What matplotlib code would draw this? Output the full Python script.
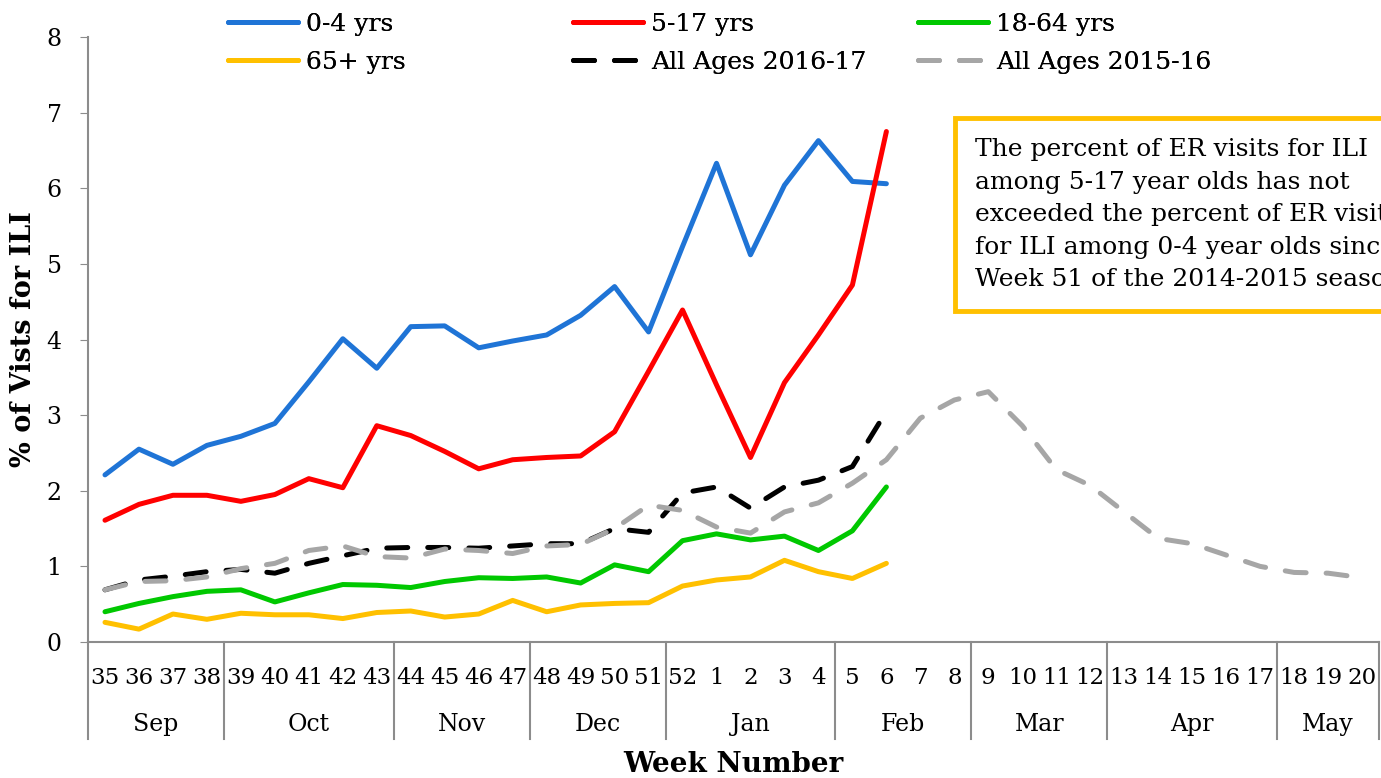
import matplotlib
matplotlib.use('Agg')
import matplotlib.pyplot as plt
import matplotlib.transforms as mtransforms

# week labels, Sep 2016 .. May 2017
weeks = [str(w) for w in range(35, 53)] + [str(w) for w in range(1, 21)]
months = ['Sep', 'Oct', 'Nov', 'Dec', 'Jan', 'Feb', 'Mar', 'Apr', 'May']
month_weeks = [4, 5, 4, 4, 5, 4, 4, 5, 3]

age_0_4 = [2.21, 2.55, 2.35, 2.60, 2.72, 2.89, 3.44, 4.01, 3.62, 4.17, 4.18, 3.89,
           3.98, 4.06, 4.32, 4.70, 4.10, 5.23, 6.33, 5.12, 6.04, 6.63, 6.09, 6.06]
age_5_17 = [1.61, 1.82, 1.94, 1.94, 1.86, 1.95, 2.16, 2.04, 2.86, 2.73, 2.52, 2.29,
            2.41, 2.44, 2.46, 2.78, 3.58, 4.39, 3.40, 2.44, 3.43, 4.06, 4.72, 6.75]
age_18_64 = [0.40, 0.51, 0.60, 0.67, 0.69, 0.53, 0.65, 0.76, 0.75, 0.72, 0.80, 0.85,
             0.84, 0.86, 0.78, 1.02, 0.93, 1.34, 1.43, 1.35, 1.40, 1.21, 1.47, 2.05]
age_65 = [0.26, 0.17, 0.37, 0.30, 0.38, 0.36, 0.36, 0.31, 0.39, 0.41, 0.33, 0.37,
          0.55, 0.40, 0.49, 0.51, 0.52, 0.74, 0.82, 0.86, 1.08, 0.93, 0.84, 1.04]
all_2016_17 = [0.69, 0.82, 0.87, 0.93, 0.96, 0.91, 1.04, 1.14, 1.24, 1.25, 1.25, 1.24,
               1.27, 1.30, 1.30, 1.50, 1.45, 1.97, 2.05, 1.77, 2.05, 2.14, 2.32, 3.05]
all_2015_16 = [0.69, 0.80, 0.81, 0.86, 0.97, 1.04, 1.21, 1.27, 1.13, 1.11, 1.23, 1.21,
               1.17, 1.27, 1.29, 1.50, 1.81, 1.74, 1.52, 1.44, 1.72, 1.84, 2.10, 2.41,
               2.96, 3.20, 3.31, 2.86, 2.28, 2.07, 1.72, 1.37, 1.30, 1.15, 1.00, 0.92,
               0.91, 0.85]

note = ('The percent of ER visits for ILI\n'
        'among 5-17 year olds has not\n'
        'exceeded the percent of ER visits\n'
        'for ILI among 0-4 year olds since\n'
        'Week 51 of the 2014-2015 season')

plt.rcParams['font.family'] = ['DejaVu Serif']
grey = '#8c8c8c'

fig = plt.figure(figsize=(13.81, 7.78), dpi=100)
ax = fig.add_axes([88 / 1381, 1 - 642 / 778, 1291 / 1381, 605 / 778])

lw = 3.6
x_cur = range(len(age_0_4))
l1, = ax.plot(x_cur, age_0_4, color='#1F74D6', lw=lw, solid_capstyle='round')
l2, = ax.plot(x_cur, age_5_17, color='#FF0000', lw=lw, solid_capstyle='round')
l3, = ax.plot(x_cur, age_18_64, color='#00C800', lw=lw, solid_capstyle='round')
l4, = ax.plot(x_cur, age_65, color='#FFC000', lw=lw, solid_capstyle='round')
l5, = ax.plot(x_cur, all_2016_17, color='black', lw=lw, ls=(0, (4.2, 4.0)),
              dash_capstyle='round')
l6, = ax.plot(range(len(all_2015_16)), all_2015_16, color='#A6A6A6', lw=lw,
              ls=(0, (4.2, 4.0)), dash_capstyle='round')

ax.set_xlim(-0.5, len(weeks) - 0.5)
ax.set_ylim(0, 8)
ax.set_yticks(range(9))
ax.tick_params(axis='y', labelsize=17, length=6, color=grey, pad=13)
ax.set_xticks(range(len(weeks)))
ax.set_xticklabels(weeks, fontsize=16.5)
ax.tick_params(axis='x', length=0, pad=18)
for s in ['top', 'right']:
    ax.spines[s].set_visible(False)
for s in ['left', 'bottom']:
    ax.spines[s].set_color(grey)
    ax.spines[s].set_linewidth(1.5)

# month groups below the week numbers
trans = mtransforms.blended_transform_factory(ax.transData, ax.transAxes)
start = -0.5
ax.plot([start, start], [0, -0.16], transform=trans, color=grey, lw=1.5, clip_on=False)
for m, n in zip(months, month_weeks):
    end = start + n
    ax.plot([end, end], [0, -0.16], transform=trans, color=grey, lw=1.5, clip_on=False)
    ax.text((start + end) / 2, -0.136, m, transform=trans, ha='center', va='center',
            fontsize=17)
    start = end

ax.text(0.5, -0.203, 'Week Number', transform=ax.transAxes, ha='center', va='center',
        fontsize=20, fontweight='bold')
ax.set_ylabel('% of Vists for ILI', fontsize=19.5, fontweight='bold')
ax.yaxis.set_label_coords(-0.0395, 0.5)

# legend laid out as three columns of two rows
pairs = [((l1, '0-4 yrs'), (l4, '65+ yrs')),
         ((l2, '5-17 yrs'), (l5, 'All Ages 2016-17')),
         ((l3, '18-64 yrs'), (l6, 'All Ages 2015-16'))]
for px, pair in zip([228, 573, 918], pairs):
    leg = fig.legend([p[0] for p in pair], [p[1] for p in pair], loc='upper left',
                     bbox_to_anchor=(px / 1381, 1 - 13 / 778), frameon=False,
                     fontsize=18, handlelength=2.8, handletextpad=0.32,
                     borderpad=0, borderaxespad=0, labelspacing=0.6)
    fig.add_artist(leg)

# note box runs past the right edge, as in the source chart
ax.text(975 / 1381, 1 - 138 / 778, note, transform=fig.transFigure, ha='left', va='top',
        fontsize=18, linespacing=1.53,
        bbox=dict(boxstyle='square,pad=0.8', fc='white', ec='#FFC000', lw=3.5))

fig.savefig('out.png', dpi=100)
